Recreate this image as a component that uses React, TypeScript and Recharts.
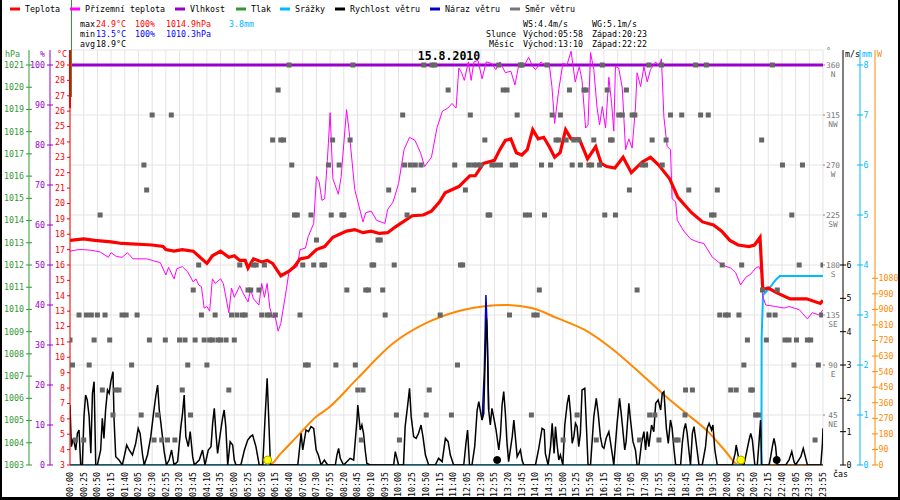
import React from 'react';
import { ComposedChart, Line, Scatter, XAxis, YAxis, CartesianGrid, ReferenceDot } from 'recharts';

const FONT = '"DejaVu Sans Mono", monospace';
const FS = 8.3;

// x axis: one slot per 5-minute record (20:55 - 21:50 missing), label every 5 records
const TIME_LABELS = [
  '00:00', '00:25', '00:50', '01:15', '01:40', '02:05', '02:30', '02:55', '03:20', '03:45',
  '04:10', '04:35', '05:00', '05:25', '05:50', '06:15', '06:40', '07:05', '07:30', '07:55',
  '08:20', '08:45', '09:10', '09:35', '10:00', '10:25', '10:50', '11:15', '11:40', '12:05',
  '12:30', '12:55', '13:20', '13:45', '14:10', '14:35', '15:00', '15:25', '15:50', '16:15',
  '16:40', '17:05', '17:30', '17:55', '18:20', '18:45', '19:10', '19:35', '20:00', '20:25',
  '20:50', '22:15', '22:40', '23:05', '23:30', '23:55',
];
const X_TICKS = TIME_LABELS.map((_, k) => k * 5);

// [record index, °C]
const TEMP = [
  [0, 17.6], [5, 17.7], [9, 17.6], [15, 17.5], [19, 17.4], [30, 17.3], [34, 17.2], [35, 17.0], [38, 16.9], [41, 17.0],
  [45, 16.9], [50, 16.1], [52, 16.6], [55, 16.9], [58, 16.5], [60, 16.6], [62, 16.3], [64, 16.3], [65, 15.8], [67, 16.4],
  [70, 16.2], [72, 16.3], [74, 16.1], [77, 15.3], [80, 15.6], [82, 15.9], [84, 16.4], [87, 16.5], [90, 17.0], [93, 17.2],
  [96, 17.8], [101, 18.2], [104, 18.3], [107, 18.1], [110, 18.2], [113, 18.05], [116, 18.1], [119, 18.5], [125, 19.2], [129, 19.25],
  [132, 19.5], [135, 20.1], [137, 20.7], [142, 21.1], [146, 21.8], [148, 21.8], [151, 22.6], [155, 22.8], [157, 23.5], [159, 24.1],
  [161, 24.2], [163, 23.3], [165, 23.15], [167, 23.5], [169, 24.8], [171, 24.2], [173, 24.3], [175, 23.7], [177, 23.0], [179, 23.3],
  [181, 24.8], [183, 24.2], [186, 24.2], [189, 22.9], [192, 23.7], [194, 22.6], [196, 22.4], [199, 22.3], [202, 23.0], [205, 22.0],
  [209, 22.7], [212, 23.0], [215, 22.5], [219, 21.6], [222, 20.4], [227, 19.4], [231, 18.8], [235, 18.6], [238, 18.2], [241, 17.6],
  [244, 17.3], [248, 17.2], [250, 17.3], [252, 17.8], [253, 14.4], [255, 14.5], [258, 14.2], [263, 13.8], [269, 13.8], [274, 13.5],
  [275, 13.7],
];

// [record index, °C] feels-like
const FEELS = [
  [0, 16.9], [3, 17.0], [5, 17.0], [8, 16.95], [11, 16.85], [14, 16.5], [15, 16.8], [17, 16.55], [19, 16.5], [21, 16.8],
  [23, 16.4], [28, 16.4], [30, 16.3], [33, 16.15], [35, 15.35], [36, 15.85], [38, 15.1], [39, 15.75], [41, 15.9], [43, 15.55],
  [45, 14.9], [46, 15.1], [47, 14.7], [48, 14.6], [49, 13.2], [50, 13.3], [51, 13.0], [52, 15.1], [53, 14.8], [55, 15.1],
  [56, 14.8], [58, 12.9], [59, 14.5], [60, 13.9], [62, 14.65], [63, 14.25], [65, 13.6], [66, 14.4], [67, 13.8], [69, 13.4],
  [70, 14.8], [71, 13.9], [72, 14.8], [73, 13.2], [74, 12.6], [75, 12.6], [76, 11.7], [77, 12.2], [79, 14.4], [80, 15.6],
  [83, 15.9], [84, 17.0], [86, 17.1], [87, 17.85], [89, 18.7], [90, 21.75], [91, 21.4], [92, 20.2], [93, 20.3], [94, 22.8],
  [95, 25.9], [96, 21.6], [98, 20.6], [99, 21.7], [101, 26.1], [102, 24.6], [104, 20.9], [107, 18.8], [108, 19.4], [110, 19.5],
  [112, 18.9], [115, 18.7], [116, 19.6], [118, 20.1], [120, 21.3], [122, 23.5], [124, 24.3], [126, 24.1], [128, 23.3], [129.5, 22.4],
  [132, 23.0], [134, 24.9], [136, 26.0], [138, 26.2], [139.5, 26.5], [141, 26.2], [142, 28.8], [143, 28.5], [144, 28.0], [145.5, 29.2],
  [146.5, 28.0], [147.5, 29.2], [149, 29.3], [150.5, 28.1], [152, 29.2], [154, 29.1], [155.5, 28.7], [157, 29.2], [159, 28.5], [161, 28.6],
  [162.5, 27.7], [164, 29.1], [166, 29.0], [167.5, 29.5], [169, 28.9], [170, 28.7], [172, 29.2], [173.5, 29.0], [175, 29.1], [176, 27.6],
  [177, 25.2], [178.5, 27.4], [180, 29.1], [181.5, 29.0], [183, 29.9], [184.5, 27.9], [186, 28.9], [187, 28.0], [188.3, 24.9], [189.2, 25.1],
  [190.1, 29.8], [191.3, 28.7], [192.5, 26.2], [193.4, 25.1], [194.4, 26.3], [195.6, 24.9], [196.8, 28.2], [197.8, 26.5], [198.6, 24.7], [199.2, 28.9],
  [200.4, 28.8], [201.7, 27.5], [202.9, 23.5], [204.1, 24.2], [205.3, 23.6], [206.5, 26.2], [207.1, 28.5], [208.4, 27.6], [209.6, 28.9], [210.8, 27.9],
  [212, 28.7], [213.9, 29.2], [215.1, 28.9], [216, 29.4], [216.9, 25.6], [218.1, 23.7], [219.3, 23.5], [219.9, 20.3], [221.2, 20.1], [221.8, 18.9],
  [224.2, 18.2], [226.6, 17.7], [229.1, 17.5], [231.5, 17.4], [234.6, 16.5], [238.2, 16.0], [241.3, 15.8], [243.1, 15.5], [244.9, 14.7], [246.8, 15.2],
  [248.6, 15.4], [250.4, 15.8], [251.6, 15.9], [252.5, 15.5], [252.9, 14.0], [254.1, 13.4], [257.7, 13.3], [260.8, 13.2], [262.6, 13.3], [266.3, 13.1],
  [269.3, 12.5], [271.1, 12.9], [273.6, 12.75], [275, 13.1],
];

// [record index, %]
const HUMIDITY = [[0, 100], [275, 100]];

// [record index, mm] cumulative rain
const RAIN = [[0, 0], [252.5, 0], [252.6, 2.57], [253.1, 3.4], [255.3, 3.53], [257.7, 3.7], [259.2, 3.78], [275, 3.78]];

// [record index, W/m2]
const SOLAR = [
  [0, 0], [72.8, 0], [77, 67], [84, 183], [90, 280], [94, 325], [105, 501], [118, 704], [130, 820], [142, 891],
  [152, 920], [159, 926], [169, 906], [178, 849], [188, 781], [197, 684], [209, 521], [217, 405], [225, 299], [233, 193],
  [239, 87], [244.3, 0], [275, 0],
];

// [record index, m/s]
const WIND = [
  [0, 1.8], [0.5, 0.55], [1.2, 0.8], [2.1, 0.45], [2.7, 0.95], [3.3, 1.05], [3.9, 0], [4.5, 0], [5.1, 1.45], [5.7, 2.1],
  [6.3, 1.95], [7, 1.45], [7.6, 0.35], [8.2, 2.15], [8.8, 2.5], [9.4, 0], [10, 0], [11.2, 0.45], [11.8, 1.4], [12.4, 0.8],
  [13, 1.65], [13.7, 2.25], [14.3, 2.15], [14.9, 2.5], [15.7, 2.8], [16.1, 1.35], [16.7, 0.25], [17.9, 0.15], [19.1, 0], [19.8, 0.25],
  [20.7, 0.6], [21.6, 0.45], [22.8, 0.3], [24, 0.65], [24.9, 1.1], [25.6, 0.95], [26.5, 0.3], [27.1, 0], [28.3, 0.3], [29.5, 0.85],
  [30.5, 1.55], [31.3, 2.05], [32, 2.4], [32.6, 1.65], [33.2, 1.25], [34.4, 0.4], [35.2, 0], [36.2, 0.15], [37.1, 0.45], [38, 0],
  [39.3, 0.1], [40.5, 1.15], [41.1, 1.55], [41.7, 2.1], [42.3, 0.85], [43.2, 0.55], [43.9, 1.0], [44.8, 0.25], [45.4, 0], [47.2, 0.15],
  [48.4, 0.45], [49.3, 0], [50.5, 0.45], [51.5, 0.55], [52.1, 1.25], [52.7, 1.7], [53.3, 0.95], [53.9, 0.35], [54.9, 0.95], [55.7, 1.4],
  [56.3, 1.65], [56.9, 1.15], [57.6, 0], [58.5, 0.7], [59.4, 0.6], [60, 0.15], [60.6, 0], [62.4, 0], [63.7, 0.45], [64.9, 0.75],
  [65.9, 0.85], [66.7, 0.9], [67.9, 0.55], [69.1, 0], [70.4, 0], [71.2, 1.35], [72, 2.6], [72.6, 1.35], [73.2, 0], [83.2, 0],
  [84.4, 0.95], [85, 0.45], [86.2, 1.05], [87.1, 1.0], [88, 1.15], [89, 1.1], [89.9, 0.45], [90.7, 0.3], [91.7, 0], [92.9, 0.15],
  [94.1, 0], [96.9, 0], [97.5, 0.3], [98.1, 0.5], [98.7, 0.2], [99.9, 0], [101.1, 0.1], [102.3, 0.2], [103.6, 0.15], [104.8, 1.35],
  [105.1, 1.8], [106, 1.05], [106.6, 1.2], [107.2, 0.95], [107.8, 0.45], [108.4, 0.05], [109.7, 0], [118.2, 0], [118.8, 0.4], [119.4, 0.2],
  [120, 0], [121.8, 0], [122.4, 1.15], [123.4, 1.85], [124, 2.3], [124.6, 1.45], [125.5, 0.85], [126.4, 0.8], [127.3, 0.95], [128.2, 1.2],
  [128.9, 0.85], [129.8, 0.3], [131, 0], [133.4, 0], [134.6, 0.2], [135.9, 0.1], [137.1, 0.8], [138.1, 0.7], [138.9, 0.3], [140.1, 0],
  [143.8, 0], [144.6, 0.65], [145.2, 1.05], [145.9, 0], [146.8, 0], [147.8, 0.55], [148.7, 1.65], [149.3, 1.9], [149.9, 1.6], [150.5, 1.35],
  [151.1, 1.55], [151.7, 3.45], [152.1, 4.4], [152.4, 3.85], [152.9, 1.65], [153.5, 1.2], [154.1, 1.7], [154.7, 1.45], [155.6, 1.05], [156.6, 0.45],
  [157.2, 0.9], [157.8, 1.8], [158.4, 2.2], [159, 1.55], [159.6, 0.65], [160.2, 0.1], [161.5, 0.85], [162.1, 1.35], [162.7, 0.8], [163.3, 0.25],
  [164.5, 0.45], [165.1, 0.15], [165.7, 0], [170, 0], [171.2, 0.5], [172.4, 1.1], [173.2, 1.05], [173.6, 0.35], [174.6, 0], [175.5, 0.55],
  [176.1, 1.25], [176.8, 0.35], [177.3, 1.15], [177.9, 0.6], [178.5, 0.15], [179.1, 0.3], [180, 0], [180.7, 1.2], [181.6, 1.85], [182.2, 2.1],
  [182.8, 1.55], [183.4, 0.65], [184, 0.85], [184.6, 1.25], [185.2, 1.15], [185.8, 0.55], [186.4, 0.95], [187, 2.25], [188, 2.3], [189.2, 0],
  [190.1, 0], [191.3, 1.45], [192.2, 2.0], [192.9, 1.55], [193.7, 0.85], [194.4, 0.55], [195, 0.5], [195.8, 0.8], [196.8, 1.0], [198, 0.35],
  [198.6, 0], [199.8, 1.25], [200.7, 2.0], [201.3, 1.55], [201.9, 1.05], [202.6, 0.45], [203.1, 0.7], [204.1, 1.85], [204.7, 1.35], [205.6, 0.7],
  [206.5, 0.45], [207.1, 0], [207.8, 0], [208.7, 0.65], [209.6, 1.0], [210.2, 0.45], [210.8, 1.0], [211.4, 0.55], [212.4, 1.2], [213.2, 1.0],
  [213.9, 1.85], [214.8, 1.95], [215.7, 1.65], [216.3, 2.15], [216.9, 2.2], [217.8, 1.1], [218.5, 0.65], [219.3, 1.35], [219.9, 1.1], [220.6, 0.45],
  [221.2, 0], [223, 0], [223.6, 0.65], [224.2, 1.05], [224.8, 1.25], [225.4, 0.95], [226, 0.45], [226.6, 0], [227.3, 0.95], [227.9, 1.15],
  [228.7, 0.65], [229.7, 0], [230.9, 0], [232.1, 0.55], [232.7, 1.1], [233.4, 1.25], [234.3, 1.05], [234.8, 1.2], [235.5, 0.45], [236.4, 0],
  [241.9, 0], [242.9, 0.35], [243.3, 0.6], [244.1, 0.25], [244.9, 0], [246.1, 0], [247, 0.35], [248, 0.75], [248.6, 0.95], [249.2, 0.75],
  [250.1, 0], [251, 0], [251.6, 0.65], [252.2, 1.35], [252.6, 0], [255.3, 0], [255.9, 0.25], [256.5, 0.55], [257.1, 0.8], [257.7, 0.55],
  [258.3, 0], [261.4, 0], [262.6, 0.15], [263.6, 0.4], [264.4, 0.1], [265, 0], [266.9, 0.25], [267.8, 0.5], [268.7, 0.2], [269.3, 0],
  [274.2, 0], [274.8, 0.65], [275, 1.1],
];

// [record index, m/s] gust, only where it differs from wind speed
const GUST = [[150.5, 1.35], [151.3, 2.8], [151.9, 5.1], [152.3, 4.2], [152.9, 1.65]];

// [record index, degrees]
const DIRECTION = [
  [0, 112.5], [0.9, 90], [2, 22.5], [3.3, 135], [5, 22.5], [6, 135], [7, 90], [7.8, 135], [8.8, 112.5], [10, 135],
  [11, 225], [11.8, 67.5], [12.8, 135], [14.5, 112.5], [15.7, 45], [16.7, 67.5], [17.9, 67.5], [19, 135], [20.5, 135], [22.5, 90],
  [24.5, 135], [26, 45], [27, 270], [28, 247.5], [29, 112.5], [30, 315], [30.7, 22.5], [32, 45], [33.5, 22.5], [34.8, 112.5],
  [35.6, 22.5], [37, 315], [38.3, 22.5], [40, 112.5], [41, 67.5], [42, 112.5], [43, 90], [44, 45], [45, 157.5], [45.7, 112.5],
  [47, 180], [48, 135], [49, 112.5], [50, 90], [51, 112.5], [52, 112.5], [53, 135], [54, 112.5], [55, 112.5], [57, 112.5],
  [58, 67.5], [59, 135], [60, 112.5], [61, 135], [62, 180], [63, 135], [64, 135], [65, 157.5], [66, 157.5], [67, 180],
  [68, 180], [69, 157.5], [70, 135], [71, 180], [72, 135], [73, 135], [74, 292.5], [75, 135], [76, 337.5], [77, 292.5],
  [78, 292.5], [80, 360], [81, 270], [82, 225], [83, 225], [84, 135], [85, 180], [86, 90], [87, 90], [88, 225],
  [89, 180], [90, 202.5], [92, 180], [93, 180], [94.4, 270], [95.4, 225], [95.9, 292.5], [97.1, 90], [98.3, 270], [99.3, 225],
  [100, 225], [101.1, 157.5], [102.3, 292.5], [103.3, 360], [104.2, 90], [105.1, 67.5], [106.4, 22.5], [107, 67.5], [108, 157.5], [109, 157.5],
  [110.3, 180], [110.9, 180], [112.5, 202.5], [113.3, 202.5], [114.2, 157.5], [115.1, 135], [116.4, 247.5], [118.4, 180], [119.2, 45], [120.3, 22.5],
  [121.5, 315], [122.2, 270], [123.1, 225], [124.3, 270], [125.5, 247.5], [126.1, 270], [128.2, 270], [129.2, 360], [130.1, 45], [131.2, 67.5],
  [132.2, 360], [133.2, 360], [135.2, 135], [138.1, 337.5], [139.3, 45], [140.5, 270], [141.5, 90], [142.6, 180], [143.4, 180], [144.4, 247.5],
  [145.6, 270], [146.2, 315], [147.4, 270], [148.7, 270], [149.9, 270], [151.5, 292.5], [152.7, 225], [153.3, 225], [154.1, 270], [155.4, 270],
  [156.6, 360], [157.2, 270], [158.2, 337.5], [159.6, 337.5], [160.5, 135], [161.5, 270], [162.7, 270], [163.3, 315], [164.5, 360], [165.1, 360],
  [166.3, 225], [167.8, 225], [168.5, 45], [169.4, 135], [170.6, 135], [171.4, 157.5], [172.2, 270], [173.3, 225], [174.2, 360], [175.5, 270],
  [176.1, 315], [177.5, 292.5], [178.5, 292.5], [179.1, 315], [180.1, 22.5], [181.2, 292.5], [182.4, 337.5], [183.4, 270], [184, 292.5], [185.2, 45],
  [185.8, 292.5], [186.4, 270], [187.7, 337.5], [188.5, 337.5], [189.5, 270], [190.5, 270], [191.3, 292.5], [192.2, 22.5], [193.4, 270], [194.4, 360],
  [195.3, 225], [196.2, 337.5], [197.4, 292.5], [198, 292.5], [199.2, 225], [200.4, 315], [201.7, 315], [203.2, 337.5], [204.3, 247.5], [205.3, 315],
  [206.3, 315], [207.1, 157.5], [208, 22.5], [209, 270], [210.2, 270], [211.4, 360], [211.7, 45], [212.6, 292.5], [213.6, 45], [215.1, 22.5],
  [216, 360], [216.3, 270], [217.7, 292.5], [219.3, 315], [221.2, 22.5], [222.1, 22.5], [223.4, 315], [224.6, 45], [224.8, 67.5], [226, 247.5],
  [227.3, 67.5], [228.5, 360], [230.3, 315], [232.4, 360], [233.1, 315], [234.3, 225], [235.2, 225], [236.4, 247.5], [237.3, 135], [238.2, 180],
  [239.4, 135], [240.4, 135], [241.3, 67.5], [243.3, 67.5], [244.3, 135], [245.3, 180], [246.1, 90], [247.4, 112.5], [248.6, 67.5], [249.2, 67.5],
  [250.4, 45], [251.4, 45], [252.6, 292.5], [252.9, 157.5], [254.3, 112.5], [255.3, 135], [256.5, 360], [257.5, 135], [258.3, 157.5], [260.2, 270],
  [261.1, 112.5], [262.6, 112.5], [263.6, 225], [264.4, 90], [265.3, 112.5], [266.3, 180], [267.5, 270], [269.3, 112.5], [270.5, 112.5], [272.1, 22.5],
  [273.3, 90], [274.5, 135], [275, 180],
];

// sun (rise/set) and moon (rise/set) marks on the time axis, as record index
const SUN_MARKS = [72.2, 245];
const MOON_MARKS = [156, 258.1];

const T_TICKS = Array.from({ length: 27 }, (_, k) => 3 + k);
const H_TICKS = Array.from({ length: 11 }, (_, k) => k * 10);
const P_TICKS = Array.from({ length: 19 }, (_, k) => 1003 + k);
const DIR_TICKS = [0, 45, 90, 135, 180, 225, 270, 315, 360];
const DIR_NAMES = ['', 'NE', 'E', 'SE', 'S', 'SW', 'W', 'NW', 'N'];
const WS_TICKS = [0, 1, 2, 3, 4, 5, 6];
const MM_TICKS = [0, 1, 2, 3, 4, 5, 6, 7, 8];
const W_TICKS = Array.from({ length: 13 }, (_, k) => k * 90);

const LEGEND = [
  ['Teplota', '#ff0000', 25],
  ['Přízemní teplota', '#ff00ff', 85],
  ['Vlhkost', '#9900cc', 190],
  ['Tlak', '#339933', 251],
  ['Srážky', '#00bbff', 295],
  ['Rychlost větru', '#000000', 350],
  ['Náraz větru', '#0000cc', 445],
  ['Směr větru', '#777777', 525],
];

const toRows = (pts: number[][]) => pts.map(([i, v]) => ({ i, v }));

// axis ids sort alphabetically when stacked: a* innermost on the left, r1 innermost on the right
const Y_T = 'a1t';
const Y_H = 'a2h';
const Y_P = 'a3p';
const Y_DIR = 'r1dir';
const Y_WS = 'r2ws';
const Y_MM = 'r3mm';
const Y_W = 'r4w';

const ML = 5;
const MR = 3.5;

const leftTick = (color: string, cross: boolean) => (props: any) => {
  const { x, y, payload } = props;
  const ax = x + ML;
  return (
    <g>
      <line x1={ax - 3} x2={cross ? ax + 3 : ax} y1={y} y2={y} stroke={color} />
      <text x={x} y={y} dy="0.35em" textAnchor="end" fill={color} fontSize={FS} fontFamily={FONT}>
        {payload.value}
      </text>
    </g>
  );
};

const rightTick = (color: string) => (props: any) => {
  const { x, y, payload } = props;
  const ax = x - MR;
  return (
    <g>
      <line x1={ax - 3} x2={ax + 3} y1={y} y2={y} stroke={color} />
      <text x={x} y={y} dy="0.35em" textAnchor="start" fill={color} fontSize={FS} fontFamily={FONT}>
        {payload.value}
      </text>
    </g>
  );
};

const DirTick = (props: any) => {
  const { x, y, payload } = props;
  const k = DIR_TICKS.indexOf(payload.value);
  if (k <= 0) return <g />;
  const ax = x - MR;
  return (
    <g fill="#777" fontSize={7.8} fontFamily={FONT}>
      <rect x={ax} y={y - 0.5} width={2} height={1} fill="#888" />
      <text x={ax + 10} y={y} dy="0.35em" textAnchor="middle">{payload.value}</text>
      <text x={ax + 10} y={y + 9} dy="0.35em" textAnchor="middle">{DIR_NAMES[k]}</text>
    </g>
  );
};

const TimeTick = (props: any) => {
  const { x, y, payload } = props;
  const label = TIME_LABELS[Math.round(payload.value / 5)];
  return (
    <text
      x={x}
      y={y}
      transform={`rotate(-90 ${x} ${y})`}
      textAnchor="end"
      dy="0.35em"
      fill="#000"
      fontSize={FS}
      fontFamily={FONT}
    >
      {label}
    </text>
  );
};

const DirSquare = (props: any) => (
  <rect x={props.cx - 2.5} y={props.cy - 2.5} width={5} height={5} fill="#666" />
);

const Txt = ({ x, y, c = '#000', children }: any) => (
  <text x={x} y={y} fill={c} fontSize={FS} fontFamily={FONT}>{children}</text>
);

export default function App() {
  return (
    <div style={{ position: 'absolute', left: 0, top: 0, width: 900, height: 500, background: '#fff' }}>
      <ComposedChart width={900} height={500} margin={{ top: 50, right: 0, bottom: 0, left: 0 }}>
        <CartesianGrid yAxisId={Y_DIR} stroke="#e4e4e4" />
        <XAxis
          dataKey="i"
          type="number"
          domain={[0, 275]}
          allowDataOverflow
          ticks={X_TICKS}
          interval={0}
          height={35}
          tickSize={0}
          tickMargin={7}
          tickLine={false}
          axisLine={{ stroke: '#000' }}
          tick={<TimeTick />}
        />
        <YAxis yAxisId={Y_T} orientation="left" width={20} domain={[3, 29.975]} allowDataOverflow ticks={T_TICKS}
          interval={0} tickSize={0} tickMargin={ML} tickLine={false} axisLine={{ stroke: '#ff0000' }} tick={leftTick('#ff0000', false)} />
        <YAxis yAxisId={Y_H} orientation="left" width={21} domain={[0, 103.75]} allowDataOverflow ticks={H_TICKS}
          interval={0} tickSize={0} tickMargin={ML} tickLine={false} axisLine={{ stroke: '#9900cc' }} tick={leftTick('#9900cc', true)} />
        <YAxis yAxisId={Y_P} orientation="left" width={29} domain={[1003, 1021.675]} allowDataOverflow ticks={P_TICKS}
          interval={0} tickSize={0} tickMargin={ML} tickLine={false} axisLine={{ stroke: '#339933' }} tick={leftTick('#339933', true)} />
        <YAxis yAxisId={Y_DIR} orientation="right" width={20} domain={[0, 373.5]} allowDataOverflow ticks={DIR_TICKS}
          interval={0} tickSize={0} tickMargin={MR} tickLine={false} axisLine={false} tick={<DirTick />} />
        <YAxis yAxisId={Y_WS} orientation="right" width={17} domain={[0, 12.45]} allowDataOverflow ticks={WS_TICKS}
          interval={0} tickSize={0} tickMargin={MR} tickLine={false} axisLine={{ stroke: '#000' }} tick={rightTick('#000')} />
        <YAxis yAxisId={Y_MM} orientation="right" width={15} domain={[0, 8.3]} allowDataOverflow ticks={MM_TICKS}
          interval={0} tickSize={0} tickMargin={MR} tickLine={false} axisLine={{ stroke: '#00bbff' }} tick={rightTick('#00bbff')} />
        <YAxis yAxisId={Y_W} orientation="right" width={25} domain={[0, 2400]} allowDataOverflow ticks={W_TICKS}
          interval={0} tickSize={0} tickMargin={MR} tickLine={false} axisLine={{ stroke: '#ff8800' }} tick={rightTick('#ff8800')} />

        <Line yAxisId={Y_W} data={toRows(SOLAR)} dataKey="v" type="monotone" stroke="#ff8800" strokeWidth={2}
          dot={false} activeDot={false} isAnimationActive={false} />
        <Scatter yAxisId={Y_DIR} data={toRows(DIRECTION)} dataKey="v" shape={DirSquare} isAnimationActive={false} />
        <Line yAxisId={Y_MM} data={toRows(RAIN)} dataKey="v" type="linear" stroke="#00bbff" strokeWidth={2}
          dot={false} activeDot={false} isAnimationActive={false} />
        <Line yAxisId={Y_H} data={toRows(HUMIDITY)} dataKey="v" type="linear" stroke="#9900cc" strokeWidth={3}
          dot={false} activeDot={false} isAnimationActive={false} />
        <Line yAxisId={Y_T} data={toRows(FEELS)} dataKey="v" type="linear" stroke="#ff00ff" strokeWidth={1}
          dot={false} activeDot={false} isAnimationActive={false} />
        <Line yAxisId={Y_T} data={toRows(TEMP)} dataKey="v" type="linear" stroke="#ff0000" strokeWidth={3.2}
          dot={false} activeDot={false} isAnimationActive={false} />
        <Line yAxisId={Y_WS} data={toRows(GUST)} dataKey="v" type="linear" stroke="#0000cc" strokeWidth={1.5}
          dot={false} activeDot={false} isAnimationActive={false} />
        <Line yAxisId={Y_WS} data={toRows(WIND)} dataKey="v" type="linear" stroke="#000" strokeWidth={1.5}
          dot={false} activeDot={false} isAnimationActive={false} />

        {SUN_MARKS.map((i) => (
          <ReferenceDot key={`s${i}`} yAxisId={Y_WS} x={i} y={0.15} r={4} fill="#ffff00" stroke="#aaaa00" />
        ))}
        {MOON_MARKS.map((i) => (
          <ReferenceDot key={`m${i}`} yAxisId={Y_WS} x={i} y={0.15} r={3.5} fill="#000" stroke="#000" />
        ))}
      </ComposedChart>

      <svg width={900} height={500} style={{ position: 'absolute', left: 0, top: 0, pointerEvents: 'none' }}>
        {/* frame */}
        <rect x={0} y={0} width={2} height={500} fill="#000" />
        <rect x={898} y={0} width={2} height={500} fill="#000" />
        <rect x={0} y={497} width={900} height={3} fill="#000" />
        <line x1={71.5} x2={71.5} y1={0} y2={97} stroke="#339933" />
        <rect x={69} y={50} width={2} height={58} fill="#ff0000" />

        {/* legend */}
        {LEGEND.map(([label, color, tx]: any) => (
          <g key={label}>
            <line x1={tx - 15} x2={tx - 5} y1={9} y2={9} stroke={color} strokeWidth={3} />
            <Txt x={tx} y={12}>{label}</Txt>
          </g>
        ))}

        {/* stats */}
        <Txt x={80} y={27}>max</Txt>
        <Txt x={96} y={27} c="#ff0000">24.9°C</Txt>
        <Txt x={135} y={27} c="#ff0000">100%</Txt>
        <Txt x={166} y={27} c="#ff0000">1014.9hPa</Txt>
        <Txt x={229} y={27} c="#00bbff">3.8mm</Txt>
        <Txt x={80} y={37}>min</Txt>
        <Txt x={96} y={37} c="#0000ff">13.5°C</Txt>
        <Txt x={135} y={37} c="#0000ff">100%</Txt>
        <Txt x={166} y={37} c="#0000ff">1010.3hPa</Txt>
        <Txt x={80} y={47}>avg</Txt>
        <Txt x={96} y={47}>18.9°C</Txt>

        <Txt x={523} y={27}>WS:4.4m/s</Txt>
        <Txt x={592} y={27}>WG:5.1m/s</Txt>
        <Txt x={486} y={37}>Slunce</Txt>
        <Txt x={523} y={37}>Východ:05:58</Txt>
        <Txt x={592} y={37}>Západ:20:23</Txt>
        <Txt x={489} y={47}>Měsíc</Txt>
        <Txt x={523} y={47}>Východ:13:10</Txt>
        <Txt x={592} y={47}>Západ:22:22</Txt>

        <text x={449} y={60} textAnchor="middle" fontSize={11.5} fontWeight="bold" fontFamily={FONT} fill="#000">
          15.8.2010
        </text>

        {/* axis titles */}
        <Txt x={5} y={57} c="#339933">hPa</Txt>
        <Txt x={40} y={57} c="#9900cc">%</Txt>
        <Txt x={57} y={57} c="#ff0000">°C</Txt>
        <Txt x={826} y={54} c="#777">°</Txt>
        <Txt x={845} y={57}>m/s</Txt>
        <Txt x={862} y={57} c="#00bbff">mm</Txt>
        <Txt x={877} y={57} c="#ff8800">W</Txt>
        <Txt x={833} y={477}>čas</Txt>
      </svg>
    </div>
  );
}
